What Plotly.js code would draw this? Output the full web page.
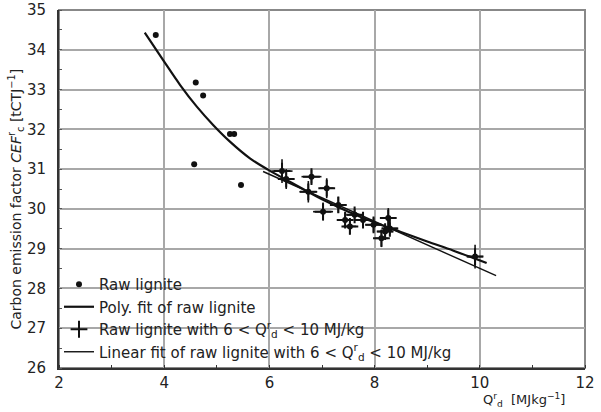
<!DOCTYPE html>
<html>
<head>
<meta charset="utf-8">
<script src="https://cdn.plot.ly/plotly-3.0.1.min.js"></script>
<style>html,body{margin:0;padding:0;background:#fff;}#chart{width:601px;height:412px;}</style>
</head>
<body>
<div id="chart"></div>
<script>
// Raw lignite points (all samples)
const rawX = [3.84, 4.60, 4.74, 5.25, 5.33, 4.57, 5.46,
              6.24, 6.32, 6.80, 6.74, 7.09, 7.02, 7.31, 7.44, 7.53, 7.62, 7.78, 7.98, 8.13, 8.20, 8.26, 8.29, 9.91];
const rawY = [34.37, 33.18, 32.85, 31.88, 31.88, 31.12, 30.60,
              30.95, 30.75, 30.81, 30.43, 30.52, 29.93, 30.10, 29.72, 29.56, 29.85, 29.72, 29.60, 29.26, 29.43, 29.77, 29.51, 28.80];

// Raw lignite with 6 < Q < 10 MJ/kg (with uncertainty crosses)
const subX  = [6.24, 6.32, 6.80, 6.74, 7.09, 7.02, 7.31, 7.44, 7.53, 7.62, 7.78, 7.98, 8.13, 8.20, 8.26, 8.29, 9.91];
const subY  = [30.95, 30.75, 30.81, 30.43, 30.52, 29.93, 30.10, 29.72, 29.56, 29.85, 29.72, 29.60, 29.26, 29.43, 29.77, 29.51, 28.80];
const subEx = [0.20, 0.15, 0.19, 0.17, 0.13, 0.19, 0.15, 0.15, 0.12, 0.15, 0.14, 0.15, 0.12, 0.15, 0.12, 0.15, 0.15];
const subEy = [0.30, 0.25, 0.17, 0.27, 0.25, 0.23, 0.20, 0.18, 0.20, 0.15, 0.15, 0.18, 0.22, 0.18, 0.25, 0.15, 0.30];

// Polynomial fit of raw lignite
const polyX = [3.63, 3.98, 4.30, 4.62, 4.93, 5.25, 5.63, 5.98, 6.50, 7.00, 7.50, 8.00, 8.50, 9.00, 9.50, 10.13];
const polyY = [34.43, 33.74, 33.12, 32.57, 32.11, 31.69, 31.27, 30.98, 30.60, 30.24, 29.93, 29.66, 29.42, 29.18, 28.95, 28.64];

// Linear fit of raw lignite with 6 < Q < 10 MJ/kg
const linX = [5.88, 10.31];
const linY = [30.94, 28.32];

const xTicks = [2, 4, 6, 8, 10, 12];
const yTicks = [26, 27, 28, 29, 30, 31, 32, 33, 34, 35];

const FONT = 'DejaVu Sans, Arial, sans-serif';
const Q = 'Q<sup>r</sup><sub>d</sub>';

const traces = [
  {x: rawX, y: rawY, type: 'scatter', mode: 'markers', name: 'Raw lignite',
   marker: {color: '#111', size: 6, symbol: 'circle'}},
  {x: polyX, y: polyY, type: 'scatter', mode: 'lines', name: 'Poly. fit of raw lignite',
   line: {color: '#111', width: 2.2, shape: 'spline'}},
  {x: subX, y: subY, type: 'scatter', mode: 'markers',
   name: 'Raw lignite with 6 &lt; ' + Q + ' &lt; 10 MJ/kg',
   marker: {color: '#111', size: 12, symbol: 'cross-thin', line: {color: '#111', width: 2}},
   error_x: {type: 'data', array: subEx, symmetric: true, thickness: 1.6, width: 0, color: '#111'},
   error_y: {type: 'data', array: subEy, symmetric: true, thickness: 1.6, width: 0, color: '#111'}},
  {x: linX, y: linY, type: 'scatter', mode: 'lines',
   name: 'Linear fit of raw lignite with 6 &lt; ' + Q + ' &lt; 10 MJ/kg',
   line: {color: '#111', width: 1.4}}
];

const layout = {
  width: 601, height: 412,
  margin: {l: 59, r: 16, t: 10, b: 44},
  paper_bgcolor: '#fff', plot_bgcolor: '#fff',
  font: {family: FONT, size: 15, color: '#222'},
  showlegend: true,
  legend: {x: 0.0, xanchor: 'left', y: 0.0, yanchor: 'bottom',
           bgcolor: 'rgba(0,0,0,0)', borderwidth: 0,
           font: {family: FONT, size: 15, color: '#222'},
           tracegroupgap: 0, itemwidth: 30},
  xaxis: {range: [2, 12], tickvals: xTicks, ticktext: xTicks.map(String),
          showgrid: true, gridcolor: '#a8a8a8', gridwidth: 2,
          showline: true, linecolor: '#333', linewidth: 2,
          ticks: '', zeroline: false,
          minor: {dtick: 1, tick0: 0, ticks: 'inside', ticklen: 3, tickcolor: '#333', showgrid: false},
          tickfont: {family: FONT, size: 15, color: '#222'}},
  yaxis: {range: [26, 35], tickvals: yTicks, ticktext: yTicks.map(String),
          showgrid: true, gridcolor: '#a8a8a8', gridwidth: 2,
          showline: true, linecolor: '#333', linewidth: 2,
          ticks: '', zeroline: false, ticklabelstandoff: 8,
          minor: {dtick: 0.5, tick0: 0, ticks: 'inside', ticklen: 3, tickcolor: '#555', showgrid: false},
          tickfont: {family: FONT, size: 15, color: '#222'}},
  shapes: [
    {type: 'rect', xref: 'paper', yref: 'paper', x0: 0, x1: 1, y0: 0, y1: 1,
     line: {color: '#888', width: 2}, fillcolor: 'rgba(0,0,0,0)', layer: 'below'}
  ],
  annotations: [
    {xref: 'paper', yref: 'paper', x: -0.082, y: 0.473, xanchor: 'center', yanchor: 'middle',
     textangle: -90, showarrow: false,
     text: 'Carbon emission factor <i>CEF</i><sup>r</sup><sub>c</sub> [tCTJ<sup>\u22121</sup>]',
     font: {family: FONT, size: 14, color: '#222'}},
    {xref: 'paper', yref: 'paper', x: 0.965, y: -0.058, xanchor: 'right', yanchor: 'top',
     showarrow: false,
     text: Q + '  [MJkg<sup>\u22121</sup>]',
     font: {family: FONT, size: 13, color: '#222'}}
  ]
};

Plotly.newPlot('chart', traces, layout, {displayModeBar: false, staticPlot: true});
</script>
</body>
</html>
